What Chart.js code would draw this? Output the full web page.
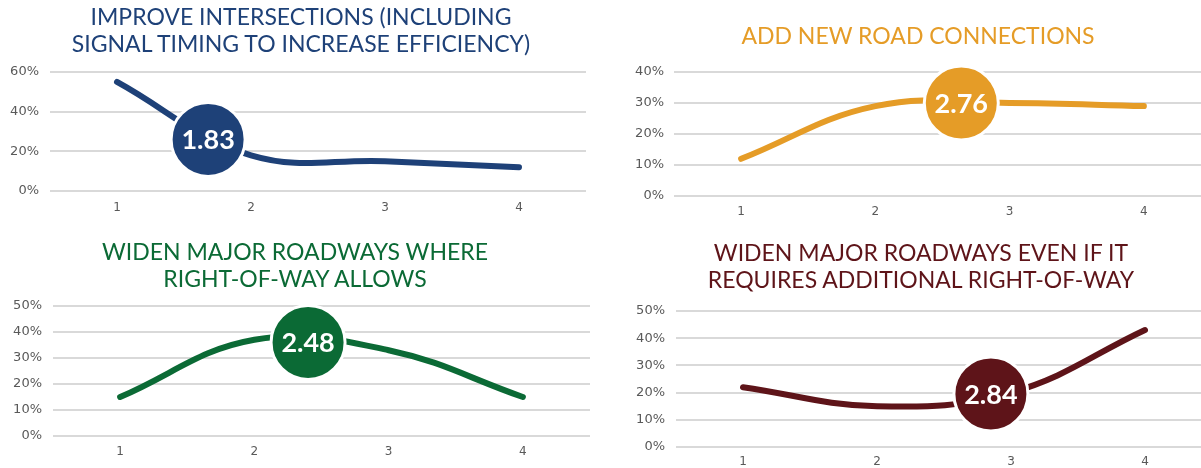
<!DOCTYPE html>
<html>
<head>
<meta charset="utf-8">
<script src="https://cdn.jsdelivr.net/npm/chart.js@4"></script>
<style>
  html, body { margin: 0; padding: 0; background: #fff; }
  body { width: 1201px; height: 468px; overflow: hidden; position: relative; }
  .box { position: absolute; }
  .title {
    position: absolute; width: 600px; text-align: center;
    font-family: Lato, sans-serif; font-size: 23px; font-weight: 400; line-height: 27px;
    white-space: nowrap;
  }
</style>
</head>
<body>
<div class="box" style="left:0;top:0;width:600px;height:234px"><canvas id="c1"></canvas></div>
<div class="box" style="left:600px;top:0;width:640px;height:234px"><canvas id="c2"></canvas></div>
<div class="box" style="left:0;top:234px;width:600px;height:234px"><canvas id="c3"></canvas></div>
<div class="box" style="left:600px;top:234px;width:640px;height:234px"><canvas id="c4"></canvas></div>
<div class="title" id="t1" style="left:1px;top:3px"></div>
<div class="title" id="t2" style="left:618px;top:22px"></div>
<div class="title" id="t3" style="left:-5px;top:238px"></div>
<div class="title" id="t4" style="left:621px;top:239px"></div>
<script>
// rating 1..4, share of responses (%)
const ratings = [1, 2, 3, 4];

const intersections = [55, 18, 15, 12];
const roadConnections = [12, 29, 30, 29];
const widenAllowed = [15, 37, 33, 15];
const widenRequired = [22, 15, 20, 43];

const averages = ['1.83', '2.76', '2.48', '2.84'];
// where the average badge sits (rating, %)
const badgeRating = [1.68, 2.64, 2.40, 2.85];
const badgePct = [26, 30, 36, 19.5];

const yMax = [60, 40, 50, 50];
const yStep = [20, 10, 10, 10];

const titles = [
  ['IMPROVE INTERSECTIONS (INCLUDING', 'SIGNAL TIMING TO INCREASE EFFICIENCY)'],
  ['ADD NEW ROAD CONNECTIONS'],
  ['WIDEN MAJOR ROADWAYS WHERE', 'RIGHT-OF-WAY ALLOWS'],
  ['WIDEN MAJOR ROADWAYS EVEN IF IT', 'REQUIRES ADDITIONAL RIGHT-OF-WAY']
];

const colors = ['#1e4178', '#e59c27', '#0b6a35', '#5e1419'];

const badgeText = {
  id: 'badgeText',
  afterDatasetsDraw(chart) {
    const el = chart.getDatasetMeta(0).data[0];
    const ctx = chart.ctx;
    ctx.save();
    ctx.fillStyle = '#fff';
    ctx.font = 'bold 27px Lato';
    ctx.textAlign = 'center';
    ctx.textBaseline = 'middle';
    ctx.fillText(chart.options.plugins.badgeText.label, el.x, el.y + 1);
    ctx.restore();
  }
};

// layout tweaks per panel
const layouts = [
  { top: 72, pr: 14, yw: 50, ypad: 11, xh: 43, xpad: 10 },
  { top: 72, pr: 29, yw: 74, ypad: 10, xh: 38, xpad: 9 },
  { top: 72, pr: 10, yw: 53, ypad: 11, xh: 32, xpad: 9 },
  { top: 77, pr: 28, yw: 76, ypad: 11, xh: 21, xpad: 8 }
];

const series = [intersections, roadConnections, widenAllowed, widenRequired];

series.forEach((values, i) => {
  const L = layouts[i];
  const t = document.getElementById('t' + (i + 1));
  t.style.color = colors[i];
  t.innerHTML = titles[i].join('<br>');

  new Chart(document.getElementById('c' + (i + 1)), {
    data: {
      datasets: [
        {
          type: 'bubble',
          data: [{ x: badgeRating[i], y: badgePct[i] }],
          radius: 37,
          backgroundColor: colors[i],
          borderColor: '#fff',
          borderWidth: 3,
          clip: false,
          order: 0
        },
        {
          type: 'line',
          data: ratings.map((r, k) => ({ x: r, y: values[k] })),
          borderColor: colors[i],
          borderWidth: 6,
          borderCapStyle: 'round',
          borderJoinStyle: 'round',
          tension: 0.4,
          pointRadius: 0,
          fill: false,
          order: 1
        }
      ]
    },
    options: {
      responsive: true,
      maintainAspectRatio: false,
      animation: false,
      events: [],
      layout: { autoPadding: false, padding: { left: 0, right: L.pr, top: L.top, bottom: 0 } },
      plugins: {
        legend: { display: false },
        tooltip: { enabled: false },
        badgeText: { label: averages[i] }
      },
      scales: {
        x: {
          type: 'linear',
          min: 0.5,
          max: 4.5,
          afterBuildTicks: s => { s.ticks = ratings.map(v => ({ value: v })); },
          afterFit: s => { s.height = L.xh; },
          grid: { display: false, drawTicks: false },
          border: { display: false },
          ticks: { color: '#595959', font: { family: 'DejaVu Sans', size: 12 }, padding: L.xpad }
        },
        y: {
          min: 0,
          max: yMax[i],
          afterFit: s => { s.width = L.yw; },
          grid: { color: '#d9d9d9', lineWidth: 2, drawTicks: false },
          border: { display: false },
          ticks: {
            stepSize: yStep[i],
            color: '#595959',
            font: { family: 'DejaVu Sans', size: 13 },
            padding: L.ypad,
            callback: v => v + '%'
          }
        }
      }
    },
    plugins: [badgeText]
  });
});
</script>
</body>
</html>
